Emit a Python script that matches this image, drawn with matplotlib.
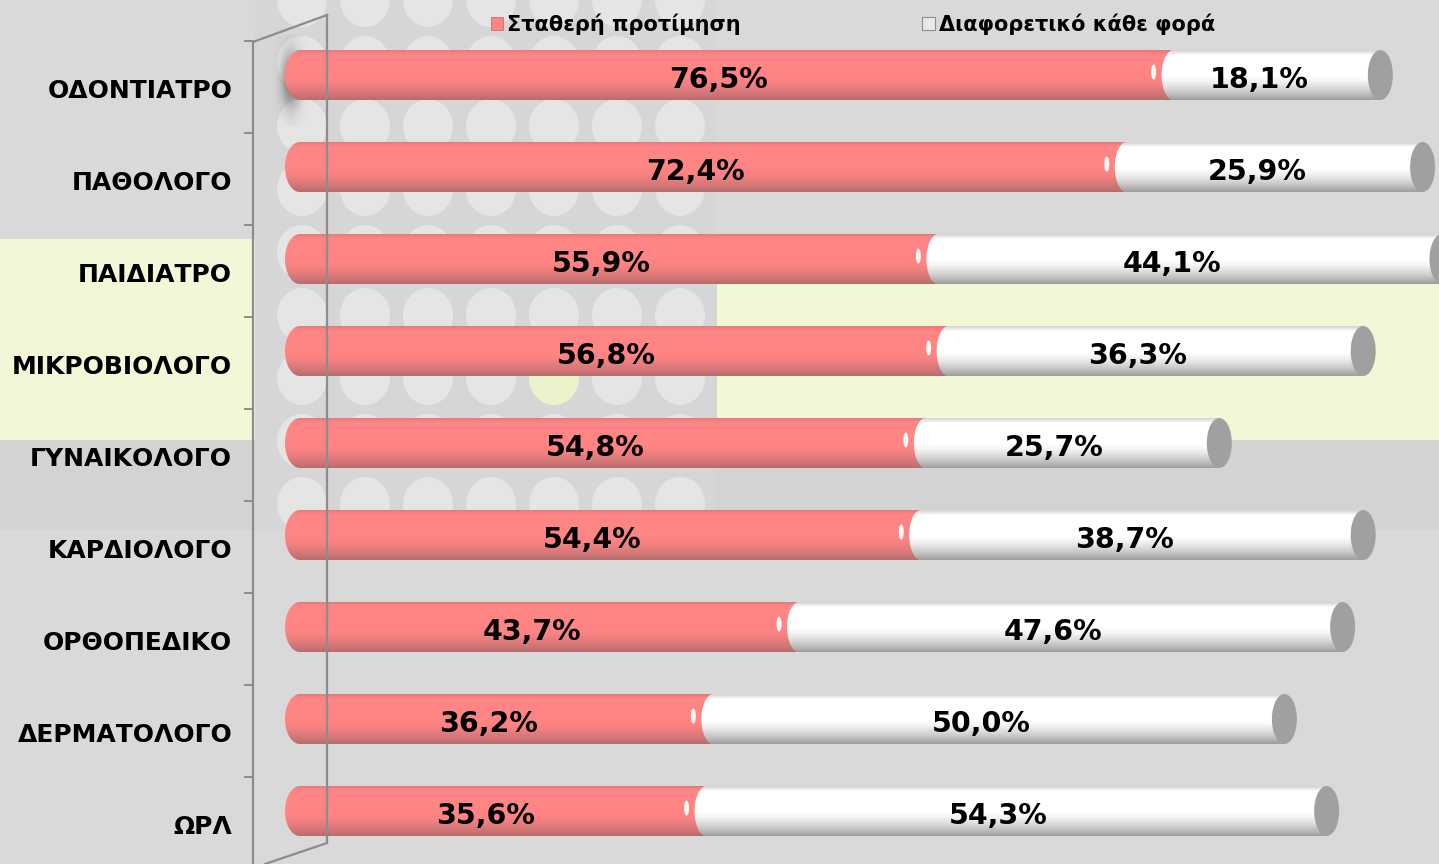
import numpy as np
import matplotlib
matplotlib.use("Agg")
import matplotlib.pyplot as plt
from matplotlib.patches import Ellipse, Rectangle, PathPatch
from matplotlib.path import Path
from matplotlib.lines import Line2D
from matplotlib.transforms import ScaledTranslation

plt.rcParams['font.family'] = ['DejaVu Sans']

categories = ["ΟΔΟΝΤΙΑΤΡΟ", "ΠΑΘΟΛΟΓΟ", "ΠΑΙΔΙΑΤΡΟ", "ΜΙΚΡΟΒΙΟΛΟΓΟ", "ΓΥΝΑΙΚΟΛΟΓΟ",
              "ΚΑΡΔΙΟΛΟΓΟ", "ΟΡΘΟΠΕΔΙΚΟ", "ΔΕΡΜΑΤΟΛΟΓΟ", "ΩΡΛ"]
stable = [76.5, 72.4, 55.9, 56.8, 54.8, 54.4, 43.7, 36.2, 35.6]
different = [18.1, 25.9, 44.1, 36.3, 25.7, 38.7, 47.6, 50.0, 54.3]
series_names = ["Σταθερή προτίμηση", "Διαφορετικό κάθε φορά"]

RED = "#ff8484"
WHITE = "#ffffff"
CAP = "#a0a0a0"
BG = "#d9d9d9"

W, H = 1439, 864
fig = plt.figure(figsize=(W / 100, H / 100), dpi=100)
fig.patch.set_facecolor(BG)

def fx(px):
    return px / W

def fy(py):
    return 1 - py / H

# ---- decorative background ----
deco = [
    (Rectangle((fx(0), fy(530)), fx(255), 90 / H), "#d3d3d3"),
    (Rectangle((fx(717), fy(530)), fx(W - 717), 90 / H), "#d3d3d3"),
    (Rectangle((fx(0), fy(440)), fx(255), 201 / H), "#f2f7d8"),
    (Rectangle((fx(717), fy(440)), fx(W - 717), 201 / H), "#f2f7d8"),
    (Rectangle((fx(255), fy(530)), fx(717 - 255), 530 / H), "#d6d6d6"),
]
for p, c in deco:
    p.set_facecolor(c)
    p.set_linewidth(0)
    p.set_transform(fig.transFigure)
    p.set_zorder(-10)
    fig.patches.append(p)

circ_ax = fig.add_axes([fx(255), fy(530), fx(717 - 255), 530 / H], zorder=-5)
circ_ax.set_xlim(255, 717)
circ_ax.set_ylim(530, 0)
circ_ax.axis("off")
for cx in np.arange(302, 717, 63):
    for cy in np.arange(0, 560, 63):
        col = "#eef2cc" if (abs(cx - 554) < 5 and abs(cy - 378) < 5) else "#e5e5e5"
        circ_ax.add_patch(Ellipse((cx, cy), 50, 54, color=col, lw=0))

# ---- main axes ----
ax_left, ax_right = 253, 1439
ax_top, ax_bot = 29, 857
ax = fig.add_axes([fx(ax_left), fy(ax_bot), fx(ax_right - ax_left), (ax_bot - ax_top) / H])
ax.patch.set_alpha(0)
zero_px, ppu = 300, 11.42
ax.set_xlim((ax_left - zero_px) / ppu, (ax_right - zero_px) / ppu)
n = len(categories)
ax.set_ylim(n - 0.5, -0.5)
for s in ax.spines.values():
    s.set_visible(False)
ax.set_xticks([])

ypos = np.arange(n)
bh = 50 / 92
r_left = 15 / ppu      # half-width of red rounded start
r_mid = 12 / ppu       # half-width of white rounded start
r_cap = 12.5 / ppu     # half-width of grey end cap

t = np.linspace(0, 1, 200)  # 0 = top, 1 = bottom
def shade_img(kind):
    img = np.zeros((200, 1, 4))
    if kind == "red":
        dark = np.clip((t - 0.55) / 0.45, 0, 1) ** 1.5 * 0.42
        top = np.clip((0.07 - t) / 0.07, 0, 1) * 0.18
        img[:, 0, :3] = 0.3
        img[:, 0, 3] = dark + top
    else:
        dark = np.clip((t - 0.5) / 0.5, 0, 1) ** 1.5 * 0.55
        top = np.clip((0.1 - t) / 0.1, 0, 1) * 0.25
        img[:, 0, :3] = 0.3
        img[:, 0, 3] = dark + top
    return img

red_img = shade_img("red")
white_img = shade_img("white")

def segment_path(x_left, x_right, y, r):
    th = np.linspace(0, np.pi, 40)
    xs = np.concatenate([[x_right], x_left - r * np.sin(th), [x_right]])
    ys = np.concatenate([[y - bh / 2], y - bh / 2 * np.cos(th), [y + bh / 2]])
    verts = np.column_stack([xs, ys])
    verts = np.vstack([verts, verts[:1]])
    codes = [Path.MOVETO] + [Path.LINETO] * (len(verts) - 2) + [Path.CLOSEPOLY]
    return Path(verts, codes)

def cylinder(x_left, x_right, y, r, color, img, z):
    patch = PathPatch(segment_path(x_left, x_right, y, r), facecolor=color, lw=0, zorder=z)
    ax.add_patch(patch)
    im = ax.imshow(img, extent=(x_left - r, x_right, y + bh / 2, y - bh / 2), aspect="auto",
                   interpolation="bilinear", zorder=z + 0.1)
    im.set_clip_path(patch)

label_shift = ScaledTranslation(-18 / 100, 0, fig.dpi_scale_trans)
for i, (a, b) in enumerate(zip(stable, different)):
    y = ypos[i]
    cylinder(0, a, y, r_left, RED, red_img, 2)
    ax.add_patch(Ellipse((a - r_mid - 8 / ppu, y - bh * 0.06), 5 / ppu, bh * 0.3,
                         color="white", lw=0, alpha=0.95, zorder=2.5))
    cylinder(a, a + b, y, r_mid, WHITE, white_img, 3)
    ax.add_patch(Ellipse((a + b, y), 2 * r_cap, bh, color=CAP, lw=0, zorder=4))
    for xc, v in ((a / 2, a), (a + b / 2, b)):
        ax.text(xc, y + 0.05, f"{v:.1f}%".replace(".", ","), ha="center", va="center",
                fontsize=20.5, fontweight="bold", color="black", zorder=6,
                transform=ax.transData + label_shift)

# soft blurred shadow near the top-left of the first bar
gx = np.linspace(-1, 1, 60)
gy = np.linspace(-1, 1, 120)
GX, GY = np.meshgrid(gx, gy)
blob = np.exp(-(GX ** 2) / 0.25 - (GY ** 2) / 0.35)
shadow = np.zeros((120, 60, 4))
shadow[..., :3] = 0.35
shadow[..., 3] = 0.75 * blob
ax.imshow(shadow, extent=(-28 / ppu, 10 / ppu, 0.55, -0.45), aspect="auto",
          interpolation="bilinear", zorder=1.5)

ax.set_yticks(ypos)
ax.set_yticklabels(categories, fontsize=18, fontweight="bold")
ax.tick_params(axis="y", length=0, pad=15)
for lbl in ax.get_yticklabels():
    lbl.set_transform(lbl.get_transform() + ScaledTranslation(0, -13 / 100, fig.dpi_scale_trans))
ax.set_xlim((ax_left - zero_px) / ppu, (ax_right - zero_px) / ppu)
ax.set_ylim(n - 0.5, -0.5)

# ---- 3D wall frame ----
wall = [((253, 42), (253, 864)), ((253, 42), (327, 15)), ((327, 15), (327, 843)),
        ((327, 843), (265, 864))]
for (x0, y0), (x1, y1) in wall:
    fig.lines.append(Line2D([fx(x0), fx(x1)], [fy(y0), fy(y1)], transform=fig.transFigure,
                            color="#8c8c8c", lw=1.6, zorder=1))
for k in range(n):
    ty = 41 + 92 * k
    fig.lines.append(Line2D([fx(245), fx(253)], [fy(ty), fy(ty)], transform=fig.transFigure,
                            color="#8c8c8c", lw=1.4, zorder=1))

# ---- legend ----
fig.legend(handles=[Rectangle((0, 0), 1, 1, fc=RED, ec="#c06060", lw=0.5),
                    Rectangle((0, 0), 1, 1, fc="#e8e8e8", ec="#909090", lw=0.8)],
           labels=series_names, loc="center", bbox_to_anchor=(fx(853), fy(24)),
           ncol=2, frameon=False, prop={"size": 15, "weight": "bold"},
           handlelength=0.6, handleheight=0.6, handletextpad=0.2, columnspacing=8.7)

fig.savefig("out.png", dpi=100, facecolor=fig.get_facecolor())
